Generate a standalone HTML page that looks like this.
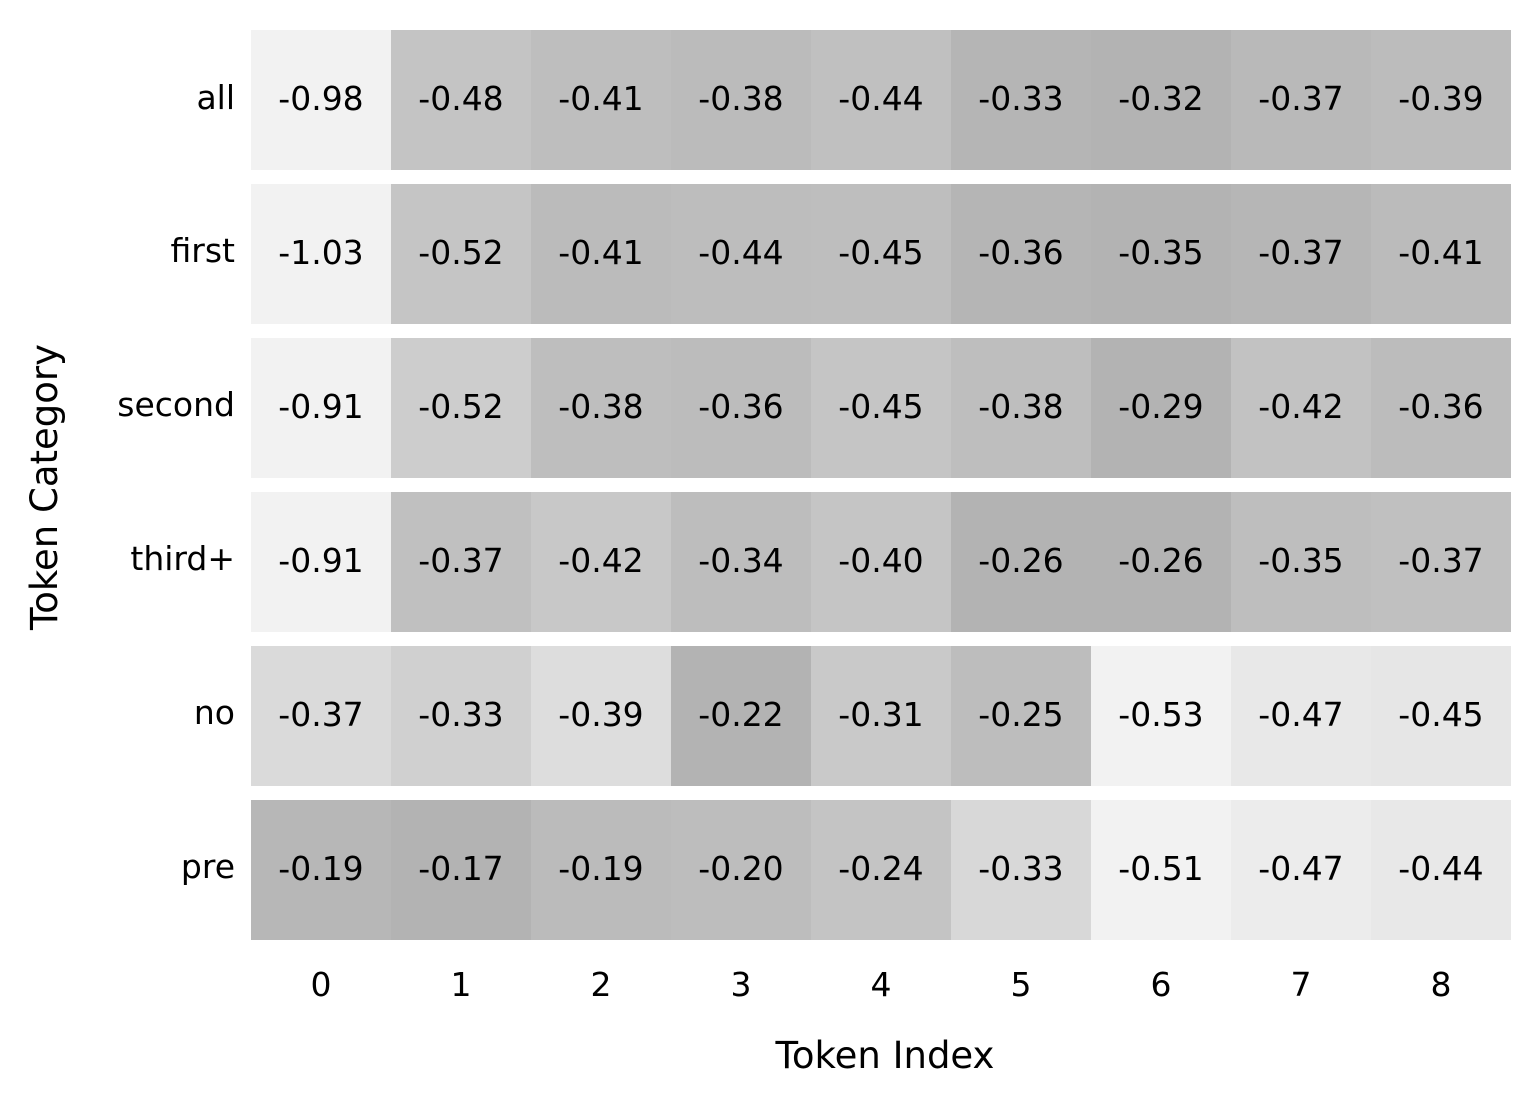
<!DOCTYPE html>
<html><head><style>
body{margin:0;width:1540px;height:1106px;background:#fff;position:relative;font-family:"DejaVu Sans","Liberation Sans",sans-serif;overflow:hidden}
.r{position:absolute;left:251px;width:1260px;height:140px;display:flex}
.r div{width:140px;height:140px;line-height:138px;text-align:center;font-size:33px;color:#000}
.yl{position:absolute;right:1305px;font-size:33px;line-height:40px;text-align:right}
.xl{position:absolute;top:965px;width:140px;text-align:center;font-size:33px}
</style></head><body>
<div class="r" style="top:30px"><div style="background:rgb(242,242,242)">-0.98</div><div style="background:rgb(196,196,196)">-0.48</div><div style="background:rgb(190,190,190)">-0.41</div><div style="background:rgb(187,187,187)">-0.38</div><div style="background:rgb(192,192,192)">-0.44</div><div style="background:rgb(181,181,181)">-0.33</div><div style="background:rgb(179,179,179)">-0.32</div><div style="background:rgb(185,185,185)">-0.37</div><div style="background:rgb(188,188,188)">-0.39</div></div>
<div class="r" style="top:184px"><div style="background:rgb(242,242,242)">-1.03</div><div style="background:rgb(197,197,197)">-0.52</div><div style="background:rgb(187,187,187)">-0.41</div><div style="background:rgb(189,189,189)">-0.44</div><div style="background:rgb(190,190,190)">-0.45</div><div style="background:rgb(181,181,181)">-0.36</div><div style="background:rgb(179,179,179)">-0.35</div><div style="background:rgb(182,182,182)">-0.37</div><div style="background:rgb(187,187,187)">-0.41</div></div>
<div class="r" style="top:338px"><div style="background:rgb(242,242,242)">-0.91</div><div style="background:rgb(205,205,205)">-0.52</div><div style="background:rgb(190,190,190)">-0.38</div><div style="background:rgb(188,188,188)">-0.36</div><div style="background:rgb(197,197,197)">-0.45</div><div style="background:rgb(190,190,190)">-0.38</div><div style="background:rgb(179,179,179)">-0.29</div><div style="background:rgb(194,194,194)">-0.42</div><div style="background:rgb(188,188,188)">-0.36</div></div>
<div class="r" style="top:492px"><div style="background:rgb(242,242,242)">-0.91</div><div style="background:rgb(192,192,192)">-0.37</div><div style="background:rgb(200,200,200)">-0.42</div><div style="background:rgb(189,189,189)">-0.34</div><div style="background:rgb(197,197,197)">-0.40</div><div style="background:rgb(179,179,179)">-0.26</div><div style="background:rgb(179,179,179)">-0.26</div><div style="background:rgb(190,190,190)">-0.35</div><div style="background:rgb(192,192,192)">-0.37</div></div>
<div class="r" style="top:646px"><div style="background:rgb(218,218,218)">-0.37</div><div style="background:rgb(208,208,208)">-0.33</div><div style="background:rgb(221,221,221)">-0.39</div><div style="background:rgb(179,179,179)">-0.22</div><div style="background:rgb(201,201,201)">-0.31</div><div style="background:rgb(189,189,189)">-0.25</div><div style="background:rgb(242,242,242)">-0.53</div><div style="background:rgb(232,232,232)">-0.47</div><div style="background:rgb(230,230,230)">-0.45</div></div>
<div class="r" style="top:800px"><div style="background:rgb(183,183,183)">-0.19</div><div style="background:rgb(179,179,179)">-0.17</div><div style="background:rgb(187,187,187)">-0.19</div><div style="background:rgb(189,189,189)">-0.20</div><div style="background:rgb(196,196,196)">-0.24</div><div style="background:rgb(216,216,216)">-0.33</div><div style="background:rgb(242,242,242)">-0.51</div><div style="background:rgb(236,236,236)">-0.47</div><div style="background:rgb(232,232,232)">-0.44</div></div>
<div class="yl" style="top:78px">all</div>
<div class="yl" style="top:231px">first</div>
<div class="yl" style="top:385px">second</div>
<div class="yl" style="top:539px">third+</div>
<div class="yl" style="top:693px">no</div>
<div class="yl" style="top:847px">pre</div>
<div class="xl" style="left:251px">0</div><div class="xl" style="left:391px">1</div><div class="xl" style="left:531px">2</div><div class="xl" style="left:671px">3</div><div class="xl" style="left:811px">4</div><div class="xl" style="left:951px">5</div><div class="xl" style="left:1091px">6</div><div class="xl" style="left:1231px">7</div><div class="xl" style="left:1371px">8</div>
<div style="position:absolute;left:685px;width:400px;top:1034px;text-align:center;font-size:37px">Token Index</div>
<div style="position:absolute;left:-155px;top:467px;width:400px;text-align:center;font-size:37px;line-height:40px;transform:rotate(-90deg)">Token Category</div>
</body></html>
